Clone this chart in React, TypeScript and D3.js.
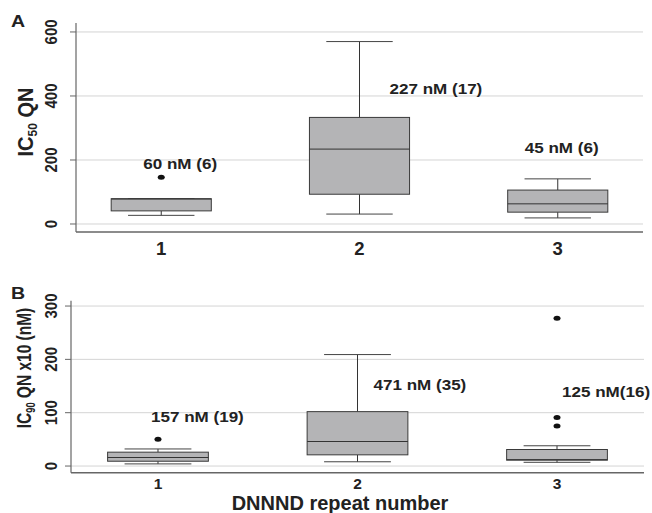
import * as d3 from 'd3';

const categories = ['1', '2', '3'];

// Panel A: IC50 QN
const aLow = [27, 31, 19];
const aQ1 = [41, 93, 37];
const aMedian = [78, 234, 63];
const aQ3 = [79, 333, 106];
const aHigh = [79, 570, 141];
const aOutliers = [[146], [], []];
const aTicks = [0, 200, 400, 600];
const aNotes = ['60 nM (6)', '227 nM (17)', '45 nM (6)'];

// Panel B: IC90 QN x10
const bLow = [4, 8, 7];
const bQ1 = [9, 21, 11];
const bMedian = [16, 46, 12];
const bQ3 = [26, 102, 31];
const bHigh = [32, 209, 38];
const bOutliers = [[50], [], [277, 91, 75]];
const bTicks = [0, 100, 200, 300];
const bNotes = ['157 nM (19)', '471 nM (35)', '125 nM(16)'];

const FONT = '"Liberation Sans", Arial, sans-serif';
const INK = '#222';
const GRID = '#d4d4d4';
const AXIS = '#666';

type Panel = {
  letter: string;
  low: number[]; q1: number[]; med: number[]; q3: number[]; high: number[];
  outliers: number[][];
  ticks: number[];
  notes: string[];
  notePos: { dx: number; v: number }[];
  x0: number; x1: number; pad: number;
  yDomain: [number, number]; yRange: [number, number];
  catSize: number; catY: number;
  titleMain: string; titleSub: string; titleRest: string;
  titleX: number; titleY: number; titleSize: number; titleSx: number;
  letterY: number;
};

const panels: Panel[] = [
  {
    letter: 'A',
    low: aLow, q1: aQ1, med: aMedian, q3: aQ3, high: aHigh, outliers: aOutliers,
    ticks: aTicks, notes: aNotes,
    notePos: [{ dx: -18, v: 172 }, { dx: 30, v: 406 }, { dx: -33, v: 221 }],
    x0: 76, x1: 643, pad: 0.43,
    yDomain: [-25, 628], yRange: [232, 23],
    catSize: 18.5, catY: 255,
    titleMain: 'IC', titleSub: '50', titleRest: ' QN',
    titleX: 33, titleY: 122, titleSize: 20, titleSx: 1.1,
    letterY: 27,
  },
  {
    letter: 'B',
    low: bLow, q1: bQ1, med: bMedian, q3: bQ3, high: bHigh, outliers: bOutliers,
    ticks: bTicks, notes: bNotes,
    notePos: [{ dx: -7, v: 83 }, { dx: 16, v: 142 }, { dx: 5, v: 130 }],
    x0: 71, x1: 644, pad: 0.436,
    yDomain: [-12.5, 310], yRange: [472.7, 300.7],
    catSize: 15.5, catY: 488.5,
    titleMain: 'IC', titleSub: '90', titleRest: ' QN x10 (nM)',
    titleX: 31, titleY: 368, titleSize: 15.5, titleSx: 1.35,
    letterY: 299,
  },
];

function BoxPanel({ p }: { p: Panel }) {
  const x = d3.scalePoint<string>().domain(categories).range([p.x0, p.x1]).padding(p.pad);
  const y = d3.scaleLinear().domain(p.yDomain).range(p.yRange);
  const boxW = x.step() * 0.505;
  const capW = x.step() * 0.335;
  const [yBottom, yTop] = p.yRange;

  return (
    <g>
      {/* grid */}
      {p.ticks.map(t => (
        <line key={'g' + t} x1={p.x0} x2={p.x1} y1={y(t)} y2={y(t)} stroke={GRID} strokeWidth={1} />
      ))}
      {/* axes */}
      <line x1={p.x0} x2={p.x0} y1={yTop} y2={yBottom} stroke={AXIS} strokeWidth={1.2} />
      <line x1={p.x0} x2={p.x1} y1={yBottom} y2={yBottom} stroke={AXIS} strokeWidth={1.5} />
      {p.ticks.map(t => (
        <g key={'t' + t}>
          <line x1={p.x0 - 6} x2={p.x0} y1={y(t)} y2={y(t)} stroke={AXIS} strokeWidth={1} />
          <text transform={`translate(57,${y(t)}) scale(1.12,1) rotate(-90)`} textAnchor="middle"
            fontSize={15} fontWeight="bold" fill={INK} fontFamily={FONT}>{t}</text>
        </g>
      ))}
      {/* boxes */}
      {categories.map((c, i) => {
        const cx = x(c)!;
        return (
          <g key={c}>
            <line x1={cx} x2={cx} y1={y(p.high[i])} y2={y(p.q3[i])} stroke="#333" />
            <line x1={cx} x2={cx} y1={y(p.q1[i])} y2={y(p.low[i])} stroke="#333" />
            <line x1={cx - capW / 2} x2={cx + capW / 2} y1={y(p.high[i])} y2={y(p.high[i])} stroke="#444" />
            <line x1={cx - capW / 2} x2={cx + capW / 2} y1={y(p.low[i])} y2={y(p.low[i])} stroke="#444" />
            <rect x={cx - boxW / 2} y={y(p.q3[i])} width={boxW} height={y(p.q1[i]) - y(p.q3[i])}
              fill="#b4b4b6" stroke="#3a3a3a" strokeWidth={1} />
            <line x1={cx - boxW / 2} x2={cx + boxW / 2} y1={y(p.med[i])} y2={y(p.med[i])} stroke="#333" />
            {p.outliers[i].map((o, k) => (
              <ellipse key={k} cx={cx} cy={y(o)} rx={3.5} ry={2.5} fill="#111" />
            ))}
            <text x={cx} y={p.catY} textAnchor="middle" fontSize={p.catSize} fontWeight="bold"
              fill={INK} fontFamily={FONT}>{c}</text>
            <text transform={`translate(${cx + p.notePos[i].dx},${y(p.notePos[i].v)}) scale(1.1,1)`}
              fontSize={15.5} fontWeight="bold" fill={INK} fontFamily={FONT}>{p.notes[i]}</text>
          </g>
        );
      })}
      {/* y title */}
      <text transform={`translate(${p.titleX},${p.titleY}) scale(${p.titleSx},1) rotate(-90)`}
        textAnchor="middle" fontSize={p.titleSize} fontWeight="bold" fill={INK} fontFamily={FONT}>
        {p.titleMain}
        <tspan fontSize={p.titleSize * 0.6} dy={p.titleSize * 0.2}>{p.titleSub}</tspan>
        <tspan dy={-p.titleSize * 0.2}>{p.titleRest}</tspan>
      </text>
      <text transform={`translate(11,${p.letterY}) scale(1.15,1)`} fontSize={17} fontWeight="bold"
        fill={INK} fontFamily={FONT}>{p.letter}</text>
    </g>
  );
}

export default function App() {
  return (
    <div style={{ position: 'absolute', left: 0, top: 0, width: 652, height: 513, background: '#fff' }}>
      <svg width={652} height={513}>
        <rect width={652} height={513} fill="#fff" />
        {panels.map(p => <BoxPanel key={p.letter} p={p} />)}
        <text x={340} y={510} textAnchor="middle" fontSize={20} fontWeight="bold" fill={INK}
          fontFamily={FONT}>DNNND repeat number</text>
      </svg>
    </div>
  );
}
